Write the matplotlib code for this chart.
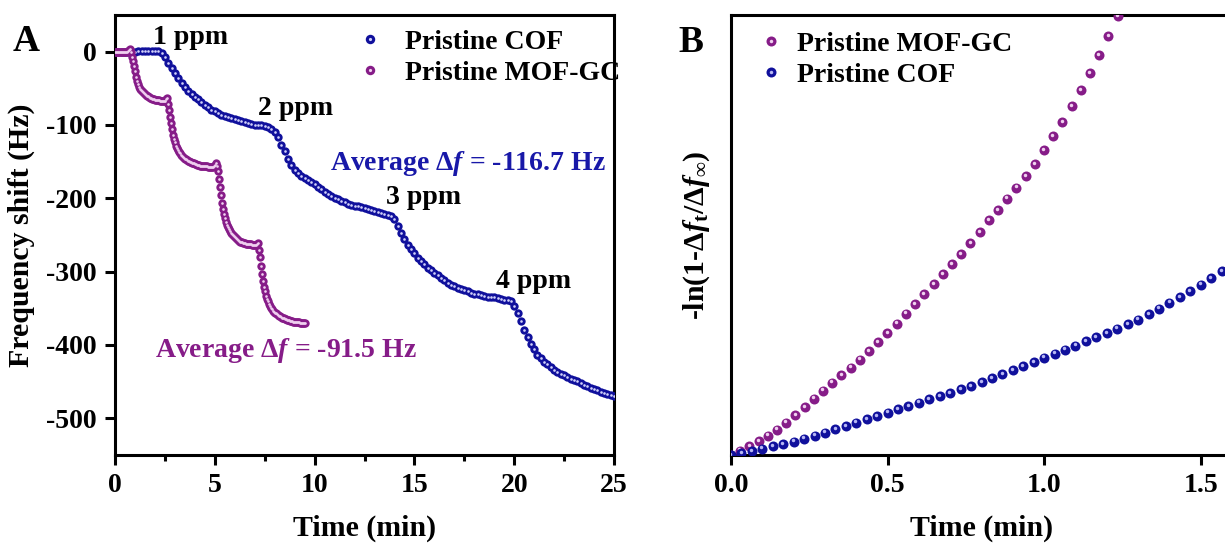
import numpy as np
import matplotlib
matplotlib.use("Agg")
import matplotlib.pyplot as plt
from matplotlib.ticker import MultipleLocator, FormatStrFormatter, NullLocator
from matplotlib.lines import Line2D
from matplotlib.legend_handler import HandlerTuple
from matplotlib.transforms import offset_copy

plt.rcParams['font.family'] = ['Liberation Serif', 'DejaVu Serif']
plt.rcParams['font.weight'] = 'bold'
plt.rcParams['axes.unicode_minus'] = False
plt.rcParams['mathtext.fontset'] = 'custom'
plt.rcParams['mathtext.rm'] = 'Liberation Serif:bold'
plt.rcParams['mathtext.it'] = 'Liberation Serif:italic:bold'
plt.rcParams['mathtext.bf'] = 'Liberation Serif:bold'

# ---------------- data: panel A (frequency shift vs time) ----------------
cof_dt = 1 / 6      # min between COF samples
cof_f = [0, 0, 0, 0, 0, 0, 0, 0.5, 0.5, 0.5, 0.5, 1, 1, 1, -1.5, -7.5, -15, -22.5, -29.5, -36.5,
         -43, -48.5, -53, -57.5, -61.5, -65, -69, -72.5, -76, -79,
         -81.5, -84, -86, -88, -89.5, -90.5, -91.5, -93, -94.5, -95.5,
         -97, -98.5, -99.5, -100, -100.5, -101.5, -103, -105, -109, -116,
         -127, -136, -146, -155, -162, -166, -169, -172, -175, -178,
         -180.5, -184, -187.5, -191, -194, -197, -199.5, -201.5, -203.5, -205.5,
         -207.5, -209, -210, -211, -212.5, -213.5, -214.5, -216, -217, -218.5,
         -219.5, -221, -222.5, -224, -228, -238, -247, -256, -263, -269,
         -275, -281, -285.5, -290, -294.5, -298, -301.5, -305, -308.5, -312,
         -315, -317.5, -320, -322, -324, -325.5, -327, -328.5, -330, -331,
         -332, -333, -334, -334.5, -335, -336, -337, -338, -339, -340,
         -347, -356, -367, -379, -389, -399, -406, -413, -418, -422.5,
         -426.5, -430.5, -434, -436.5, -439, -441.5, -444, -446, -448, -449.5,
         -451.5, -454, -456, -458, -460, -462, -464, -465.5, -467, -468.5,
         -470]

mof_dt = 0.05       # min between MOF-GC samples
mof_f = [-0.5, -0.5, -0.5, -0.5, -0.5, -0.5, -0.5, -0.5, -0.5, -0.5,
         -0.5, -0.3, 0, 1, 2.5, 3.5, -1, -7, -13, -20,
         -27, -34, -40, -44.5, -48, -50.5, -52.5, -54, -55.5, -57,
         -58, -59, -60, -61, -62, -63, -63.5, -64, -64.5, -65,
         -65.5, -66, -66, -66.5, -66.5, -67, -67, -67, -67, -67,
         -67, -65, -63, -71, -80, -89, -97, -105, -113, -118.5,
         -123.5, -128, -131, -134, -136.5, -138.5, -140.5, -142, -143.5, -145,
         -146, -147, -148, -149, -149.5, -150, -151, -151.5, -152, -152.5,
         -153, -153.5, -154, -154.5, -155, -155.5, -155.5, -156, -156, -156,
         -156.5, -156.5, -156.5, -157, -157, -157, -157, -157, -157, -156,
         -154, -152.5, -156, -163, -173, -184.5, -196, -206, -214, -221,
         -227, -232, -236, -239, -242, -244.5, -247, -248.5, -250, -251.5,
         -253, -254, -255.5, -257, -258, -259, -259.5, -260, -260.5, -261,
         -261.5, -262, -262, -262, -262.5, -262.5, -262.5, -263, -263, -263,
         -263, -263, -262, -261, -270, -280, -292, -303, -313, -321,
         -327, -333, -337, -340.5, -343.5, -346.5, -349, -351, -353, -354.5,
         -356, -357, -358, -359, -360, -361, -361.5, -362.5, -363, -363.5,
         -364.5, -365, -365.5, -366, -366.5, -367, -367, -367.5, -368, -368,
         -368.5, -368.5, -369, -369, -369, -369.5, -369.5, -369.5, -370, -370,
         -370]

ppm_labels = ["1 ppm", "2 ppm", "3 ppm", "4 ppm"]
ppm_pos = [(1.9, 20), (7.15, -77), (13.6, -199), (19.1, -314)]

# ---------------- data: panel B (-ln(1-dft/dfinf) vs time) ----------------
b_cof_dt = 1 / 30
b_cof_y = [0.0, 0.02, 0.04, 0.063, 0.09, 0.11, 0.133, 0.163, 0.193, 0.223,
           0.257, 0.29, 0.323, 0.36, 0.39, 0.423, 0.457, 0.49, 0.523, 0.557,
           0.587, 0.62, 0.657, 0.689, 0.727, 0.767, 0.807, 0.847, 0.89, 0.93,
           0.973, 1.013, 1.053, 1.093, 1.137, 1.177, 1.217, 1.263, 1.307, 1.353,
           1.407, 1.463, 1.523, 1.58, 1.637, 1.703, 1.767, 1.837]
b_mof_dt = 0.0294
b_mof_y = [0.0, 0.045, 0.09, 0.14, 0.195, 0.255, 0.325, 0.40, 0.48, 0.565,
           0.645, 0.725, 0.80, 0.875, 0.955, 1.04, 1.13, 1.22, 1.315, 1.415,
           1.51, 1.61, 1.71, 1.81, 1.91, 2.01, 2.12, 2.23, 2.345, 2.45,
           2.565, 2.675, 2.79, 2.91, 3.05, 3.19, 3.33, 3.49, 3.65, 3.82,
           4.0, 4.19, 4.39]

cof_t = np.arange(len(cof_f)) * cof_dt
mof_t = np.arange(len(mof_f)) * mof_dt
b_cof_t = np.arange(len(b_cof_y)) * b_cof_dt
b_mof_t = np.arange(len(b_mof_y)) * b_mof_dt

BLUE = '#10109c'
PURPLE = '#861c88'
BLUE_HI = '#d0d0fa'
PURPLE_HI = '#f0d0f0'
BLUE_HI_B = '#b8b8f4'

W, H = 1225, 549
fig = plt.figure(figsize=(W / 100, H / 100), dpi=100)
axA = fig.add_axes([115 / W, 1 - 455 / H, 499 / W, 440 / H])
axB = fig.add_axes([731 / W, 1 - 455 / H, 501 / W, 440 / H])

for ax in (axA, axB):
    for s in ax.spines.values():
        s.set_linewidth(2.2)

def balls(ax, x, y, color, hi, ms, hms, z, dx=0.0, dy=0.0):
    ax.plot(x, y, ls='none', marker='o', ms=ms, mfc=color, mec=color, mew=0, zorder=z)
    tr = offset_copy(ax.transData, fig=fig, x=dx, y=dy, units='points')
    ax.plot(x, y, ls='none', marker='o', ms=hms, mfc=hi, mec=hi, mew=0, zorder=z + 0.1,
            transform=tr)

def ball_handle(color, hi, ms, hms):
    h1 = Line2D([], [], ls='none', marker='o', ms=ms, mfc=color, mec=color, mew=0)
    h2 = Line2D([], [], ls='none', marker='o', ms=hms, mfc=hi, mec=hi, mew=0)
    return (h1, h2)

# ---- Panel A ----
balls(axA, cof_t, cof_f, BLUE, BLUE_HI, 6.0, 1.9, 3)
balls(axA, mof_t, mof_f, PURPLE, PURPLE_HI, 6.0, 1.9, 4)

axA.set_xlim(0, 25)
axA.set_ylim(-550, 50)
axA.xaxis.set_major_locator(MultipleLocator(5))
axA.xaxis.set_minor_locator(MultipleLocator(2.5))
axA.yaxis.set_major_locator(MultipleLocator(100))
axA.yaxis.set_minor_locator(NullLocator())
axA.tick_params(which='major', direction='out', length=7, width=2.2, labelsize=20, pad=6)
axA.tick_params(which='minor', direction='out', length=4, width=2.2)
axA.set_xlabel('Time (min)', fontsize=21.5, fontweight='bold', labelpad=12)
axA.set_ylabel('Frequency shift (Hz)', fontsize=21.5, fontweight='bold', labelpad=8)

for lab, (x, y) in zip(ppm_labels, ppm_pos):
    axA.text(x, y, lab, fontsize=20, fontweight='bold', ha='left', va='center', color='black')
axA.text(10.75, -152, r'Average $\Delta\mathit{f}$ = -116.7 Hz', fontsize=20,
         fontweight='bold', color='#1818a8', ha='left', va='center')
axA.text(2.0, -407, r'Average $\Delta\mathit{f}$ = -91.5 Hz', fontsize=20,
         fontweight='bold', color=PURPLE, ha='left', va='center')

axA.legend([ball_handle(BLUE, BLUE_HI, 6.8, 2.3), ball_handle(PURPLE, PURPLE_HI, 6.8, 2.3)],
           ['Pristine COF', 'Pristine MOF-GC'],
           handler_map={tuple: HandlerTuple(ndivide=1)},
           loc='upper left', bbox_to_anchor=(0.483, 0.967), frameon=False,
           fontsize=20, handlelength=1.0, handletextpad=0.75, labelspacing=0.2,
           borderpad=0, borderaxespad=0)

# ---- Panel B ----
balls(axB, b_mof_t, b_mof_y, PURPLE, PURPLE_HI, 7.2, 2.5, 3, dx=-0.6, dy=1.0)
balls(axB, b_cof_t, b_cof_y, BLUE, BLUE_HI_B, 7.2, 2.5, 4, dx=-0.6, dy=1.0)

axB.set_xlim(0, 1.6)
axB.set_ylim(0, 4.4)
axB.xaxis.set_major_locator(MultipleLocator(0.5))
axB.xaxis.set_major_formatter(FormatStrFormatter('%.1f'))
axB.yaxis.set_major_locator(NullLocator())
axB.yaxis.set_minor_locator(NullLocator())
axB.tick_params(which='major', direction='out', length=7, width=2.2, labelsize=20, pad=6)
axB.set_xlabel('Time (min)', fontsize=21.5, fontweight='bold', labelpad=12)
axB.set_ylabel(r'-ln(1-$\Delta\mathit{f}_{\mathrm{t}}/\Delta\mathit{f}_{\infty}$)',
               fontsize=21.5, fontweight='bold', labelpad=14)

axB.legend([ball_handle(PURPLE, PURPLE_HI, 7.2, 2.5), ball_handle(BLUE, BLUE_HI_B, 7.2, 2.5)],
           ['Pristine MOF-GC', 'Pristine COF'],
           handler_map={tuple: HandlerTuple(ndivide=1)},
           loc='upper left', bbox_to_anchor=(0.052, 0.962), frameon=False,
           fontsize=20, handlelength=1.0, handletextpad=0.45, labelspacing=0.2,
           borderpad=0, borderaxespad=0)

fig.text(13 / W, 1 - 51 / H, 'A', fontsize=27, fontweight='bold', ha='left', va='baseline')
fig.text(678 / W, 1 - 52 / H, 'B', fontsize=27, fontweight='bold', ha='left', va='baseline')

fig.savefig('out.png', dpi=100)
